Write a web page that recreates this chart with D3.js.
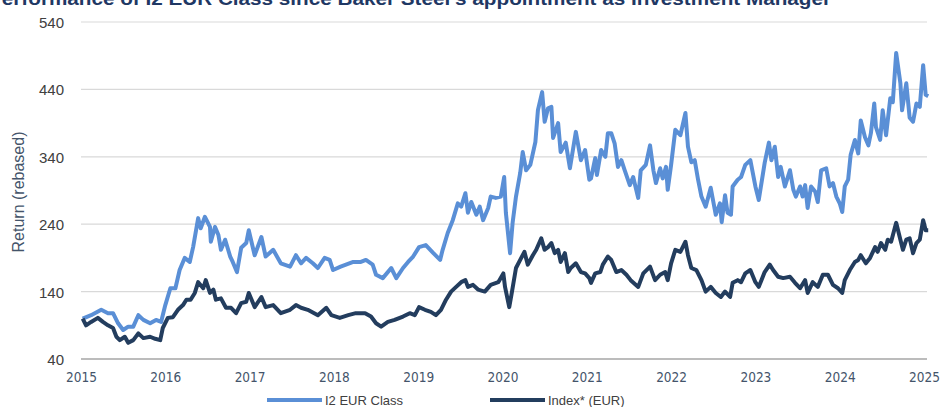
<!DOCTYPE html>
<html>
<head>
<meta charset="utf-8">
<script src="https://cdn.jsdelivr.net/npm/d3@7"></script>
<style>
  body { margin: 0; background: #fff; }
  svg { display: block; font-family: 'Liberation Sans', Arial, sans-serif; }
</style>
</head>
<body>
<svg id="chart" width="942" height="407"></svg>
<script>
// + -- data (decimal year, rebased return) ---------------------------------- +
const yTicks = [40, 140, 240, 340, 440, 540]
const xTicks = [2015, 2016, 2017, 2018, 2019, 2020, 2021, 2022, 2023, 2024, 2025]
const seriesNames = ['I2 EUR Class', 'Index* (EUR)']

const i2Dates = [2015.02, 2015.12, 2015.24, 2015.32, 2015.38, 2015.44, 2015.50, 2015.56, 2015.62, 2015.68,
  2015.74, 2015.82, 2015.89, 2015.95, 2016.00, 2016.06, 2016.12, 2016.17, 2016.23, 2016.29,
  2016.33, 2016.39, 2016.42, 2016.47, 2016.53, 2016.54, 2016.59, 2016.63, 2016.66, 2016.71,
  2016.77, 2016.80, 2016.85, 2016.90, 2016.96, 2016.99, 2017.06, 2017.14, 2017.19, 2017.28,
  2017.37, 2017.48, 2017.55, 2017.61, 2017.67, 2017.75, 2017.81, 2017.89, 2017.95, 2017.99,
  2018.08, 2018.23, 2018.32, 2018.38, 2018.46, 2018.50, 2018.58, 2018.68, 2018.74, 2018.82,
  2018.88, 2018.94, 2019.01, 2019.09, 2019.18, 2019.26, 2019.29, 2019.35, 2019.41, 2019.47,
  2019.51, 2019.56, 2019.59, 2019.63, 2019.69, 2019.73, 2019.77, 2019.83, 2019.86, 2019.92,
  2019.98, 2020.02, 2020.04, 2020.09, 2020.12, 2020.16, 2020.21, 2020.24, 2020.28, 2020.33,
  2020.39, 2020.42, 2020.47, 2020.50, 2020.54, 2020.58, 2020.60, 2020.66, 2020.69, 2020.75,
  2020.80, 2020.87, 2020.93, 2020.98, 2021.03, 2021.05, 2021.10, 2021.12, 2021.17, 2021.22,
  2021.25, 2021.29, 2021.33, 2021.37, 2021.41, 2021.45, 2021.51, 2021.55, 2021.61, 2021.64,
  2021.70, 2021.75, 2021.79, 2021.82, 2021.87, 2021.90, 2021.94, 2021.96, 2022.00, 2022.05,
  2022.11, 2022.17, 2022.20, 2022.24, 2022.28, 2022.32, 2022.36, 2022.41, 2022.47, 2022.53,
  2022.58, 2022.60, 2022.64, 2022.67, 2022.71, 2022.73, 2022.79, 2022.83, 2022.88, 2022.94,
  2023.00, 2023.04, 2023.11, 2023.16, 2023.19, 2023.23, 2023.27, 2023.30, 2023.35, 2023.41,
  2023.45, 2023.48, 2023.53, 2023.56, 2023.59, 2023.62, 2023.66, 2023.71, 2023.74, 2023.78,
  2023.84, 2023.88, 2023.92, 2023.96, 2024.00, 2024.03, 2024.06, 2024.10, 2024.13, 2024.18,
  2024.22, 2024.25, 2024.30, 2024.34, 2024.37, 2024.41, 2024.43, 2024.48, 2024.51, 2024.55,
  2024.60, 2024.63, 2024.67, 2024.72, 2024.74, 2024.79, 2024.83, 2024.87, 2024.91, 2024.95,
  2024.99, 2025.02, 2025.05]
const i2Values = [100, 105, 113, 108, 108, 93, 83, 88, 88, 105,
  98, 93, 98, 95, 120, 145, 145, 172, 190, 184,
  206, 249, 234, 251, 236, 214, 236, 224, 202, 217,
  192, 184, 169, 205, 212, 231, 194, 221, 192, 202,
  182, 177, 194, 182, 190, 182, 175, 190, 187, 172,
  177, 184, 184, 187, 180, 165, 160, 175, 160, 175,
  184, 192, 206, 209, 197, 187, 202, 227, 246, 271,
  266, 286, 257, 273, 254, 266, 246, 264, 281, 279,
  281, 310, 257, 197, 242, 281, 316, 347, 320, 328,
  362, 409, 436, 392, 412, 414, 368, 390, 347, 361,
  323, 377, 335, 350, 306, 308, 338, 313, 350, 340,
  375, 375, 360, 325, 335, 320, 298, 310, 279, 320,
  328, 357, 320, 301, 323, 308, 325, 291, 328, 380,
  372, 405, 355, 332, 335, 306, 281, 266, 294, 254,
  271, 243, 283, 257, 254, 296, 306, 310, 328, 335,
  296, 276, 331, 361, 335, 355, 310, 325, 296, 320,
  291, 281, 296, 281, 298, 264, 296, 288, 273, 320,
  323, 296, 301, 281, 271, 258, 296, 306, 343, 365,
  345, 394, 369, 357, 375, 419, 384, 365, 409, 372,
  427, 421, 494, 449, 409, 449, 398, 392, 419, 414,
  476, 432, 430]

const idxDates = [2015.02, 2015.06, 2015.12, 2015.20, 2015.26, 2015.32, 2015.38, 2015.42, 2015.46, 2015.52,
  2015.56, 2015.62, 2015.68, 2015.74, 2015.82, 2015.88, 2015.94, 2015.97, 2016.03, 2016.09,
  2016.15, 2016.21, 2016.25, 2016.30, 2016.35, 2016.39, 2016.45, 2016.48, 2016.53, 2016.57,
  2016.60, 2016.66, 2016.72, 2016.78, 2016.84, 2016.90, 2016.96, 2016.99, 2017.06, 2017.14,
  2017.19, 2017.28, 2017.37, 2017.48, 2017.55, 2017.61, 2017.69, 2017.81, 2017.91, 2017.97,
  2018.07, 2018.17, 2018.26, 2018.37, 2018.44, 2018.50, 2018.56, 2018.64, 2018.72, 2018.82,
  2018.90, 2018.96, 2019.01, 2019.08, 2019.15, 2019.21, 2019.27, 2019.33, 2019.39, 2019.45,
  2019.51, 2019.56, 2019.59, 2019.65, 2019.71, 2019.79, 2019.86, 2019.95, 2020.01, 2020.03,
  2020.08, 2020.11, 2020.16, 2020.21, 2020.26, 2020.30, 2020.36, 2020.40, 2020.46, 2020.50,
  2020.54, 2020.58, 2020.62, 2020.66, 2020.69, 2020.74, 2020.78, 2020.81, 2020.87, 2020.93,
  2020.98, 2021.03, 2021.05, 2021.10, 2021.16, 2021.19, 2021.25, 2021.29, 2021.35, 2021.41,
  2021.47, 2021.52, 2021.61, 2021.67, 2021.75, 2021.81, 2021.87, 2021.93, 2021.96, 2022.00,
  2022.05, 2022.11, 2022.17, 2022.20, 2022.24, 2022.30, 2022.36, 2022.41, 2022.47, 2022.53,
  2022.59, 2022.64, 2022.70, 2022.73, 2022.79, 2022.83, 2022.88, 2022.94, 2023.00, 2023.04,
  2023.11, 2023.17, 2023.21, 2023.27, 2023.33, 2023.41, 2023.47, 2023.53, 2023.59, 2023.62,
  2023.68, 2023.74, 2023.80, 2023.86, 2023.92, 2023.98, 2024.03, 2024.06, 2024.12, 2024.18,
  2024.22, 2024.25, 2024.31, 2024.36, 2024.42, 2024.45, 2024.49, 2024.54, 2024.57, 2024.61,
  2024.67, 2024.72, 2024.75, 2024.79, 2024.83, 2024.87, 2024.91, 2024.95, 2024.99, 2025.02,
  2025.05]
const idxValues = [100, 90, 95, 101, 95, 90, 86, 73, 68, 73,
  64, 68, 78, 71, 73, 70, 68, 86, 101, 102,
  113, 120, 128, 128, 138, 154, 145, 157, 138, 143,
  128, 130, 116, 116, 108, 123, 125, 138, 117, 132,
  117, 120, 108, 113, 120, 116, 113, 105, 116, 105,
  101, 105, 108, 108, 103, 93, 88, 95, 98, 103,
  108, 105, 117, 113, 110, 105, 113, 128, 140, 147,
  154, 157, 147, 150, 143, 140, 150, 154, 167, 147,
  117, 138, 175, 187, 199, 180, 194, 202, 219, 202,
  206, 212, 197, 202, 184, 197, 169, 175, 182, 169,
  167, 160, 153, 167, 169, 180, 192, 187, 169, 172,
  165, 157, 147, 167, 177, 157, 165, 169, 157, 182,
  202, 199, 214, 194, 175, 172, 157, 140, 147, 138,
  132, 140, 132, 153, 157, 154, 167, 172, 154, 147,
  169, 180, 172, 162, 160, 162, 153, 145, 157, 138,
  154, 147, 165, 165, 150, 145, 138, 157, 172, 184,
  187, 194, 182, 190, 206, 199, 212, 202, 217, 214,
  242, 217, 202, 217, 219, 197, 212, 217, 246, 231,
  231]

const colors = ['#5a8fd6', '#233d5e']

// + -- scales ----------------------------------------------------------------- +
const svg = d3.select('#chart')
const x = d3.scaleLinear().domain([2015, 2025]).range([81, 924])
const y = d3.scaleLinear().domain([40, 540]).range([359, 22])

// gridlines
svg.append('g')
  .selectAll('line')
  .data(yTicks)
  .join('line')
  .attr('x1', 81)
  .attr('x2', 927)
  .attr('y1', d => y(d))
  .attr('y2', d => y(d))
  .attr('stroke', d => d === 40 ? '#a6a6a6' : '#d9d9d9')
  .attr('stroke-width', d => d === 40 ? 1.5 : 1.2)

// y axis labels
const yAxis = svg.append('g')
  .attr('transform', 'translate(64,0)')
  .call(d3.axisLeft(y).tickValues(yTicks).tickSize(0).tickPadding(0))
yAxis.select('.domain').remove()
yAxis.selectAll('text')
  .attr('dy', '0.36em')
  .style('font-size', '15px')
  .attr('fill', '#404040')

// x axis labels
const xAxis = svg.append('g')
  .attr('transform', 'translate(0,372)')
  .call(d3.axisBottom(x).tickValues(xTicks).tickFormat(d3.format('d')).tickSize(0).tickPadding(0))
xAxis.select('.domain').remove()
xAxis.selectAll('text')
  .attr('dy', '0.71em')
  .style('font-size', '13.5px')
  .style('font-family', "'Liberation Sans Narrow', 'DejaVu Sans Condensed', sans-serif")
  .attr('fill', '#44546a')

// + -- lines ------------------------------------------------------------------ +
const line = d3.line()
  .x(d => x(d[0]))
  .y(d => y(d[1]))

const i2 = d3.zip(i2Dates, i2Values)
const idx = d3.zip(idxDates, idxValues)

svg.append('path')
  .datum(i2)
  .attr('d', line)
  .attr('fill', 'none')
  .attr('stroke', colors[0])
  .attr('stroke-width', 4)
  .attr('stroke-linejoin', 'round')

svg.append('path')
  .datum(idx)
  .attr('d', line)
  .attr('fill', 'none')
  .attr('stroke', colors[1])
  .attr('stroke-width', 4)
  .attr('stroke-linejoin', 'round')

// + -- titles ----------------------------------------------------------------- +
// the reference shows the title clipped at the top edge, kept that way
svg.append('text')
  .text("Performance of I2 EUR Class since Baker Steel's appointment as Investment Manager")
  .attr('x', -12)
  .attr('y', 5)
  .attr('textLength', 843)
  .attr('lengthAdjust', 'spacingAndGlyphs')
  .attr('font-weight', 700)
  .style('font-size', '19px')
  .attr('fill', '#1f3864')

svg.append('text')
  .text('Return (rebased)')
  .attr('transform', 'translate(24,192) rotate(-90)')
  .attr('text-anchor', 'middle')
  .style('font-size', '16px')
  .attr('fill', '#44546a')

// + -- legend ----------------------------------------------------------------- +
const legendX = [267, 490]
const legend = svg.append('g')
  .selectAll('g')
  .data(seriesNames)
  .join('g')
  .attr('transform', (d, i) => 'translate(' + legendX[i] + ',400)')
legend.append('line')
  .attr('x1', 0)
  .attr('x2', 55)
  .attr('stroke', (d, i) => colors[i])
  .attr('stroke-width', 4)
legend.append('text')
  .text(d => d)
  .attr('x', 58)
  .attr('dy', '0.35em')
  .style('font-size', '13px')
  .attr('fill', '#404040')
</script>
</body>
</html>
